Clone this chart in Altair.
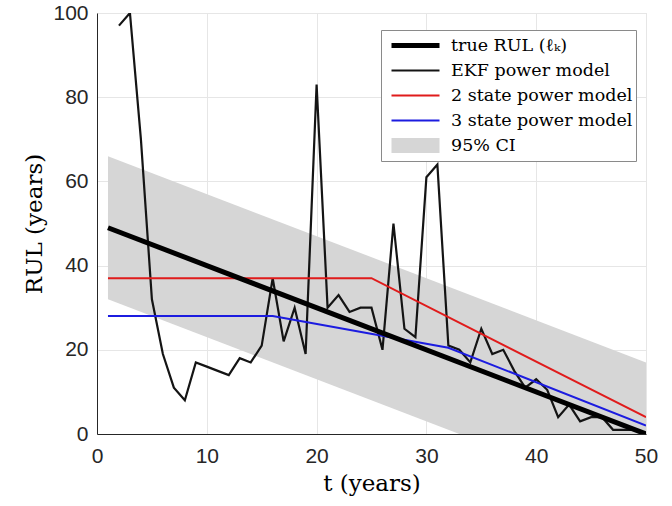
import altair as alt
import pandas as pd

# ---- data ----
series_names = ["true RUL (ℓₖ)", "EKF power model", "2 state power model",
                "3 state power model", "95% CI"]
series_colors = ["#000000", "#141414", "#e01b1b", "#1c1ce0", "#d6d6d6"]
series_widths = [5, 2.2, 2, 2, 15]

true_t = [1, 50]
true_rul = [49, 0]

ekf_t = list(range(2, 51))
ekf_rul = [97, 100, 70, 32, 19, 11, 8, 17, 16, 15, 14, 18, 17, 21, 37, 22, 30, 19,
           83, 30, 33, 29, 30, 30, 20, 50, 25, 23, 61, 64, 21, 20, 17, 25, 19, 20,
           15, 11, 13, 10.5, 4, 7, 3, 4, 4, 1, 1, 1, 0]

two_state_t = [1, 25, 50]
two_state_rul = [37, 37, 4]

three_state_t = [1, 16, 32, 50]
three_state_rul = [28, 28, 20.5, 2]

ci_t = [1, 50]
ci_lower = [32, -17]
ci_upper = [66, 17]

x_ticks = [0, 10, 20, 30, 40, 50]
y_ticks = [0, 20, 40, 60, 80, 100]

# ---- tables ----
rows = []
for name, ts, vs in [
    (series_names[1], ekf_t, ekf_rul),
    (series_names[2], two_state_t, two_state_rul),
    (series_names[3], three_state_t, three_state_rul),
    (series_names[0], true_t, true_rul),
]:
    for t, v in zip(ts, vs):
        rows.append({"series": name, "t": t, "rul": v})
lines_df = pd.DataFrame(rows)
ci_df = pd.DataFrame({"t": ci_t, "lower": ci_lower, "upper": ci_upper})

serif = "'DejaVu Serif', 'Liberation Serif', 'Times New Roman', serif"
sans = "Liberation Sans, Arial, sans-serif"

x_enc = alt.X("t:Q", scale=alt.Scale(domain=[0, 50], nice=False),
              axis=alt.Axis(values=x_ticks, title="t (years)", ticks=False,
                            labelFlush=False, labelPadding=11, titlePadding=6,
                            labelFont=sans, labelFontSize=21, labelColor="#262626",
                            titleFont=serif, titleFontSize=23, titleFontWeight="normal",
                            titleColor="black", grid=True, gridColor="#e6e6e6",
                            domainColor="#262626"))
y_enc = alt.Y("rul:Q", scale=alt.Scale(domain=[0, 100], nice=False),
              axis=alt.Axis(values=y_ticks, title="RUL (years)", ticks=False,
                            labelFlush=False, labelPadding=9, titlePadding=6,
                            labelFont=sans, labelFontSize=21, labelColor="#262626",
                            titleFont=serif, titleFontSize=23, titleFontWeight="normal",
                            titleColor="black", grid=True, gridColor="#e6e6e6",
                            domainColor="#262626"))

legend = alt.Legend(title=None, orient="none", legendX=284, legendY=17,
                    symbolType="stroke", symbolSize=2304, clipHeight=25,
                    rowPadding=0, labelFont=serif, labelFontSize=17.5,
                    labelFontWeight="normal",
                    labelColor="black", labelLimit=400, labelOffset=4,
                    padding=3, strokeColor="#8a8a8a", fillColor="white",
                    symbolOpacity=1)

area = alt.Chart(ci_df).mark_area(color="#d6d6d6", clip=True).encode(
    x=x_enc,
    y=alt.Y("upper:Q", scale=alt.Scale(domain=[0, 100], nice=False)),
    y2="lower:Q",
)

lines = alt.Chart(lines_df).mark_line(clip=True).encode(
    x=x_enc,
    y=y_enc,
    color=alt.Color("series:N", sort=series_names,
                    scale=alt.Scale(domain=series_names, range=series_colors),
                    legend=legend),
    strokeWidth=alt.StrokeWidth("series:N", sort=series_names,
                                scale=alt.Scale(type="ordinal", domain=series_names,
                                                range=series_widths),
                                legend=legend),
    order="t:Q",
)

chart = alt.layer(area, lines).properties(
    width=549, height=421,
    autosize=alt.AutoSizeParams(type="none"),
    padding={"left": 97, "top": 13, "right": 26, "bottom": 72},
).configure_view(
    stroke="#262626", strokeWidth=1
).configure_legend(
    labelFont=serif, labelFontSize=17.5, labelFontWeight="normal", labelColor="black"
).configure(background="white")

chart.save("out.html", embed_options={"renderer": "svg", "actions": False})
